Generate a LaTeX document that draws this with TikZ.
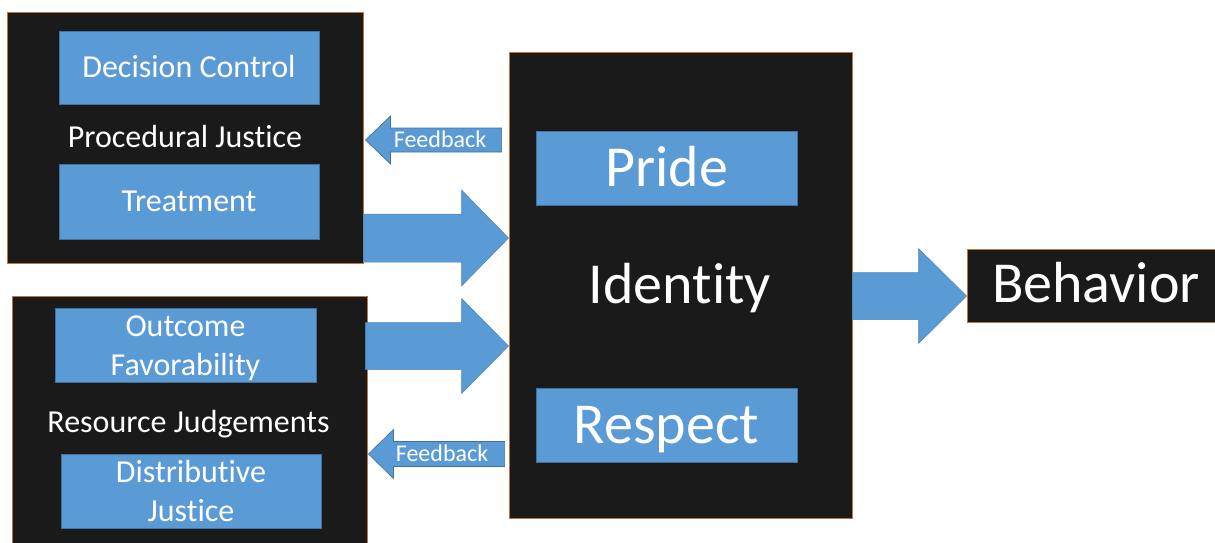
\documentclass[tikz,border=0pt]{standalone}
\usepackage{fontspec}
\setmainfont{Carlito}[Ligatures=NoCommon]
\usetikzlibrary{calc}
\definecolor{boxblack}{HTML}{1A1A1A}
\definecolor{boxedge}{HTML}{C0763A}
\definecolor{blueface}{HTML}{5B9BD5}
\definecolor{blueedge}{HTML}{41719C}
\tikzset{
  darkbox/.style={draw=boxedge, fill=boxblack, line width=0.9pt, inner sep=0pt},
  bluebox/.style={draw=blueedge, fill=blueface, line width=0.8pt, inner sep=0pt,
     text=white, align=center, minimum width=260pt},
  midtext/.style={font=\fontsize{32}{39}\selectfont, text height=20.6pt, text depth=0pt},
  midtwo/.style={font=\fontsize{32}{39}\selectfont, text height=59.6pt, text depth=0pt},
  bigtext/.style={font=\fontsize{58}{70}\selectfont, text height=37.4pt, text depth=0pt},
  fbtext/.style={font=\fontsize{24}{29}\selectfont, text height=15.5pt, text depth=0pt,
     text=white, inner sep=0pt},
  wtext/.style={text=white, inner sep=0pt, align=center},
  blockarrow/.style={fill=blueface, draw=blueface!85!black, line width=0.5pt},
  fbarrow/.style={fill=blueface, draw=blueedge, line width=0.6pt},
}
% #2 tail, #3 tip, #4 shaft half width, #5 head half width, #6 signed head length
\newcommand{\myblockarrow}[6][blockarrow]{%
  \draw[#1] ($(#2)+(0,-#4)$) -- ($(#3)+(-#6,-#4)$) -- ($(#3)+(-#6,-#5)$) -- (#3)
     -- ($(#3)+(-#6,#5)$) -- ($(#3)+(-#6,#4)$) -- ($(#2)+(0,#4)$) -- cycle;}
\begin{document}
\begin{tikzpicture}[x=1pt,y=-1pt]
\clip (0,0) rectangle (1215,542);
\fill[white] (0,0) rectangle (1215,542);

% dark containers
\node[darkbox, minimum width=356pt, minimum height=251pt] (pj) at (185,137.5) {};
\node[darkbox, minimum width=355pt, minimum height=260pt] (rj) at (189.5,426) {};
\node[darkbox, minimum width=343pt, minimum height=466pt] (id) at (680.5,285) {};
\node[darkbox, minimum width=263pt, minimum height=73pt] (beh) at (1098.5,285.5) {};

% procedural justice
\node[bluebox, midtext, minimum height=73pt] (dc) at (189,67.5) {Decision Control};
\node[wtext, midtext] (pjt) at (185,137.5) {Procedural Justice};
\node[bluebox, midtext, minimum height=75pt] (tr) at (189,201.5) {Treatment};

% resource judgements
\node[bluebox, midtwo, minimum width=261pt, minimum height=74pt] (of) at (185.5,345.5) {Outcome\\Favorability};
\node[wtext, midtext] (rjt) at (188.5,422.5) {Resource Judgements};
\node[bluebox, midtwo, minimum width=260pt, minimum height=74pt] (dj) at (191,491.5) {Distributive\\Justice};

% identity
\node[bluebox, bigtext, minimum width=261pt, minimum height=74pt] (pr) at (666.5,168) {Pride};
\node[wtext, bigtext] (idt) at (680,285) {Identity};
\node[bluebox, bigtext, minimum width=261pt, minimum height=74pt] (re) at (666.5,425) {Respect};

% behavior
\node[wtext, bigtext] (beht) at (1096,283.5) {Behavior};

% arrow end points
\coordinate (y1) at (0,238);
\coordinate (y2) at (0,346);
\coordinate (y3) at (0,296);
\coordinate (f1) at (0,140);
\coordinate (f2) at (0,454);
\coordinate (a1s) at (pj.east |- y1);
\coordinate (a1e) at (id.west |- y1);
\coordinate (a2s) at ($(rj.east |- y2)+(-2,0)$);
\coordinate (a2e) at (id.west |- y2);
\coordinate (a3s) at (id.east |- y3);
\coordinate (a3e) at (beh.west |- y3);
\coordinate (f1s) at ($(id.west |- f1)+(-7,0)$);
\coordinate (f1e) at ($(pj.east |- f1)+(2,0)$);
\coordinate (f2s) at ($(id.west |- f2)+(-4,0)$);
\coordinate (f2e) at ($(rj.east |- f2)+(1,0)$);

\myblockarrow{a1s}{a1e}{24}{48}{47}
\myblockarrow{a2s}{a2e}{23.5}{47.5}{47}
\myblockarrow{a3s}{a3e}{23.5}{47.5}{48}
\myblockarrow[fbarrow]{f1s}{f1e}{12}{24}{-25}
\myblockarrow[fbarrow]{f2s}{f2e}{12.5}{24.5}{-25}

\node[fbtext] (fb1) at (440,140) {Feedback};
\node[fbtext] (fb2) at (442,454) {Feedback};
\end{tikzpicture}
\end{document}
